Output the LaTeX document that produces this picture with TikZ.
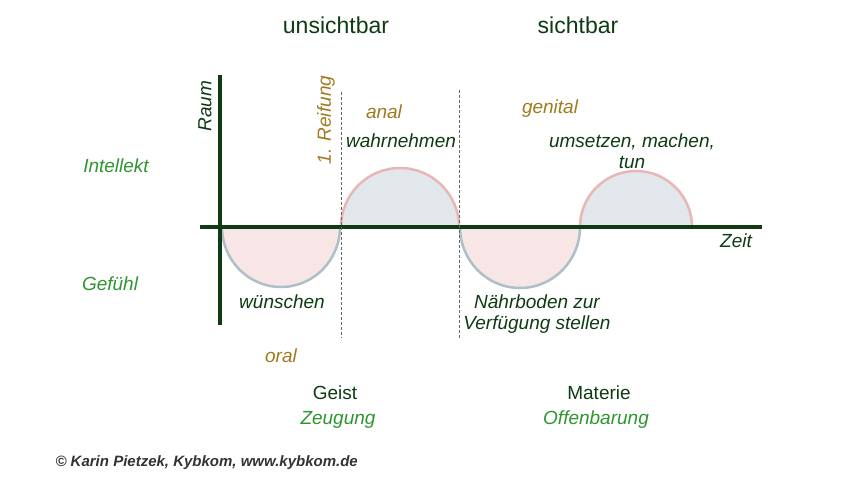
\documentclass[tikz,border=0pt]{standalone}
\usepackage{fontspec}
\setmainfont{Liberation Sans}
\begin{document}
\begin{tikzpicture}[x=1pt,y=-1pt,
  dg/.style={text=dkg,font=\fontsize{19}{22}\selectfont\itshape},
  hd/.style={text=dkg,font=\fontsize{23}{26}\selectfont},
  hs/.style={text=dkg,font=\fontsize{19}{22}\selectfont},
  lg/.style={text=lgr,font=\fontsize{19}{22}\selectfont\itshape},
  au/.style={text=gold,font=\fontsize{19}{22}\selectfont\itshape},
  axis/.style={draw=dkg,line width=3.5pt},
  dashline/.style={draw=gray!80!black,densely dashed,line width=0.8pt},
  upper/.style={fill=bluegray,draw=pinkline,line width=2.5pt},
  lower/.style={fill=pinkfill,draw=blueline,line width=2.5pt}]
\definecolor{dkg}{HTML}{0E3B12}
\definecolor{lgr}{HTML}{2E9630}
\definecolor{gold}{HTML}{A07A1E}
\definecolor{bluegray}{HTML}{E2E7EB}
\definecolor{pinkline}{HTML}{E9B6B6}
\definecolor{pinkfill}{HTML}{F8E5E5}
\definecolor{blueline}{HTML}{AEBFC8}
\useasboundingbox (0,0) rectangle (850,486);
\fill[white] (0,0) rectangle (850,486);
% semicircles
\path[lower] (222,227) arc[start angle=180,end angle=360,radius=59,y radius=-60] -- cycle;
\path[upper] (341,227) arc[start angle=180,end angle=0,radius=59,y radius=-59] -- cycle;
\path[lower] (460,227) arc[start angle=180,end angle=360,radius=60,y radius=-61] -- cycle;
\path[upper] (580,227) arc[start angle=180,end angle=0,radius=56,y radius=-56] -- cycle;
% axes
\coordinate (xa) at (200,227); \coordinate (xb) at (762,227);
\coordinate (ya) at (220,75); \coordinate (yb) at (220,325);
\draw[axis] (xa) -- (xb);
\draw[axis] (ya) -- (yb);
\coordinate (d1a) at (341,92); \coordinate (d1b) at (341,338);
\coordinate (d2a) at (459,90); \coordinate (d2b) at (459,338);
\draw[dashline] (d1a) -- (d1b);
\draw[dashline] (d2a) -- (d2b);
% texts
\node[hd] (t1) at (336,25) {unsichtbar};
\node[hd] (t2) at (578,25) {sichtbar};
\node[dg,rotate=90] (raum) at (205,106) {Raum};
\node[au,rotate=90] (reif) at (326,120) {1. Reifung};
\node[au] (anal) at (384,112) {anal};
\node[dg] (wahr) at (401,141) {wahrnehmen};
\node[au] (gen) at (550,109) {genital};
\node[dg,align=center,inner sep=0pt] (ums) at (632,151) {umsetzen, machen,\\[-1pt]tun};
\node[lg] (int) at (116,166) {Intellekt};
\node[dg] (zeit) at (736,241) {Zeit};
\node[lg] (gef) at (110,284) {Gefühl};
\node[dg] (wun) at (282,302) {wünschen};
\node[dg,align=center,inner sep=0pt] (nah) at (537,314) {Nährboden zur\\[-1pt]Verfügung stellen};
\node[au] (oral) at (281,356) {oral};
\node[hs] (geist) at (335,393) {Geist};
\node[lg] (zeug) at (338,420) {Zeugung};
\node[hs] (mat) at (599,393) {Materie};
\node[lg] (off) at (596,420) {Offenbarung};
\node[anchor=west,text=black!80,font=\fontsize{15}{17}\selectfont\bfseries\itshape] (copy) at (52,463) {© Karin Pietzek, Kybkom, www.kybkom.de};
\end{tikzpicture}
\end{document}
